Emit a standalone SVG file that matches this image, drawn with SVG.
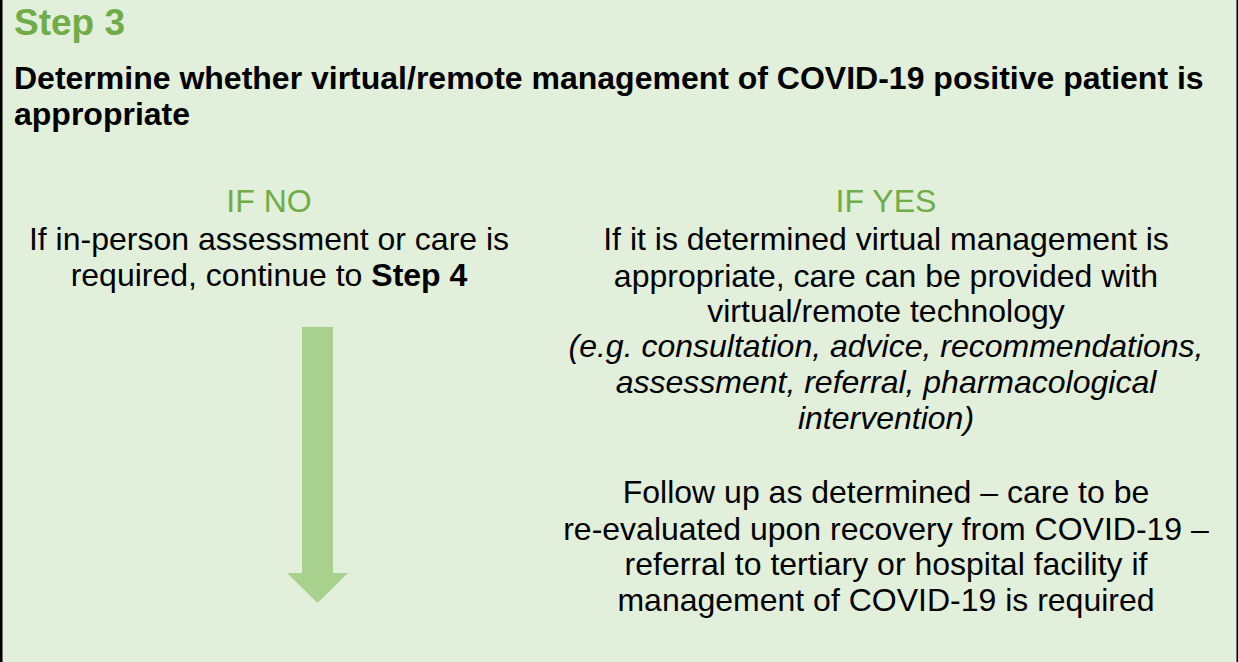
<svg xmlns="http://www.w3.org/2000/svg" width="1238" height="662" viewBox="0 0 1238 662">
<style>
.t{font-family:"Liberation Sans",Arial,sans-serif;}
.step{font-size:37px;font-weight:bold;fill:#70AD47;}
.title{font-size:32px;font-weight:bold;fill:#000;}
.lab{font-size:32px;fill:#70AD47;text-anchor:middle;}
.body{font-size:32px;fill:#000;text-anchor:middle;}
.it{font-style:italic;}
.b{font-weight:bold;}
</style>
<rect x="0" y="0" width="1238" height="662" fill="#E2EFDA"/>
<g id="frame">
<rect x="0" y="0" width="2.5" height="662" fill="#000"/>
<rect x="1236.5" y="0" width="1.5" height="662" fill="#000"/>
</g>
<g id="header">
<text class="t step" x="14" y="35">Step 3</text>
<text class="t title" x="14" y="89">Determine whether virtual/remote management of COVID-19 positive patient is</text>
<text class="t title" x="14" y="125">appropriate</text>
</g>
<g id="if-no">
<text class="t lab" x="269" y="212">IF NO</text>
<text class="t body" x="269" y="250">If in-person assessment or care is</text>
<text class="t body" x="269" y="286">required, continue to <tspan class="b">Step 4</tspan></text>
</g>
<g id="if-yes">
<text class="t lab" x="886" y="212">IF YES</text>
<text class="t body" x="886" y="250">If it is determined virtual management is</text>
<text class="t body" x="886" y="287">appropriate, care can be provided with</text>
<text class="t body" x="886" y="322">virtual/remote technology</text>
<text class="t body it" x="886" y="357">(e.g. consultation, advice, recommendations,</text>
<text class="t body it" x="886" y="393">assessment, referral, pharmacological</text>
<text class="t body it" x="886" y="429">intervention)</text>
<text class="t body" x="886" y="503">Follow up as determined – care to be</text>
<text class="t body" x="886" y="540">re-evaluated upon recovery from COVID-19 –</text>
<text class="t body" x="886" y="575">referral to tertiary or hospital facility if</text>
<text class="t body" x="886" y="611">management of COVID-19 is required</text>
</g>
<g id="connectors">
<polygon points="302,327 333,327 333,573 348,573 317.5,603 287,573 302,573" fill="#A9D18E"/>
</g>
</svg>
